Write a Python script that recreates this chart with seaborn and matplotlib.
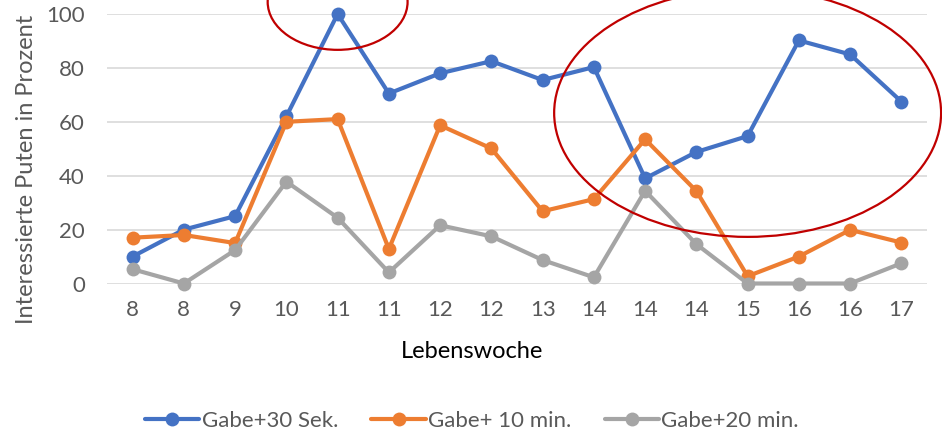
import matplotlib
matplotlib.use("Agg")
import matplotlib.pyplot as plt
from matplotlib.patches import Ellipse
import seaborn as sns
import pandas as pd

weeks = ["8", "8", "9", "10", "11", "11", "12", "12", "13", "14", "14", "14", "15", "16", "16", "17"]
s30sek = [10, 20, 25, 62, 100, 70.5, 78, 82.5, 75.5, 80.3, 39, 48.8, 54.7, 90.2, 85, 67.5]
s10min = [17, 18, 15, 60, 61, 12.8, 58.7, 50.1, 26.8, 31.3, 53.5, 34.3, 2.7, 10, 19.9, 15.2]
s20min = [5.3, 0, 12.4, 37.8, 24.4, 4.1, 21.6, 17.5, 8.7, 2.3, 34.4, 14.6, 0, 0, 0, 7.5]
series_names = ["Gabe+30 Sek.", "Gabe+ 10 min.", "Gabe+20 min."]
colors = ["#4472C4", "#ED7D31", "#A5A5A5"]

rows = []
for name, vals in zip(series_names, [s30sek, s10min, s20min]):
    for i, v in enumerate(vals):
        rows.append({"idx": i, "val": v, "series": name})
df = pd.DataFrame(rows)

sns.set_theme(style="white")
plt.rcParams['font.family'] = ['Lato', 'DejaVu Sans']
txt = "#595959"

fig = plt.figure(figsize=(9.42, 4.33), dpi=100)
ax = fig.add_axes([107/942, 149.5/433, 820/942, 269.5/433])

sns.lineplot(data=df, x="idx", y="val", hue="series", palette=colors,
             hue_order=series_names, marker="o", markersize=10, linewidth=3,
             markeredgewidth=0, ax=ax, clip_on=False, legend=True, zorder=3)

ax.set_xlim(-0.5, len(weeks) - 0.5)
ax.set_ylim(0, 100)
ax.set_yticks([0, 20, 40, 60, 80, 100])
ax.set_xticks(range(len(weeks)))
ax.set_xticklabels(weeks)
ax.tick_params(axis="both", labelsize=16, colors=txt, length=0)
ax.tick_params(axis="x", pad=12)
ax.tick_params(axis="y", pad=16)
ax.yaxis.grid(True, color="#D9D9D9", linewidth=1.2)
ax.set_axisbelow(True)
for sp in ax.spines.values():
    sp.set_visible(False)

ax.set_xlabel("Lebenswoche", fontsize=17, color="black")
ax.xaxis.set_label_coords(0.445, -0.254)
ax.xaxis.label.set_va("center")
ax.set_ylabel("Interessierte Puten in Prozent", fontsize=17, color=txt)
ax.yaxis.set_label_coords(-0.0976, 0.425)
ax.yaxis.label.set_va("center")

h, l = ax.get_legend_handles_labels()
ax.legend(h, l, loc="center", bbox_to_anchor=(0.445, -0.51), ncol=3, frameon=False,
          fontsize=16, labelcolor=txt, handlelength=2.45, handletextpad=0.1,
          columnspacing=1.5)

e1 = Ellipse((4, 104.5), 2.73, 35.6, fill=False, edgecolor="#C00000",
             linewidth=1.6, clip_on=False, zorder=5)
e2 = Ellipse((12, 63.3), 7.55, 92, fill=False, edgecolor="#C00000",
             linewidth=1.6, clip_on=False, zorder=5)
ax.add_patch(e1)
ax.add_patch(e2)

fig.savefig("out.png", dpi=100)
